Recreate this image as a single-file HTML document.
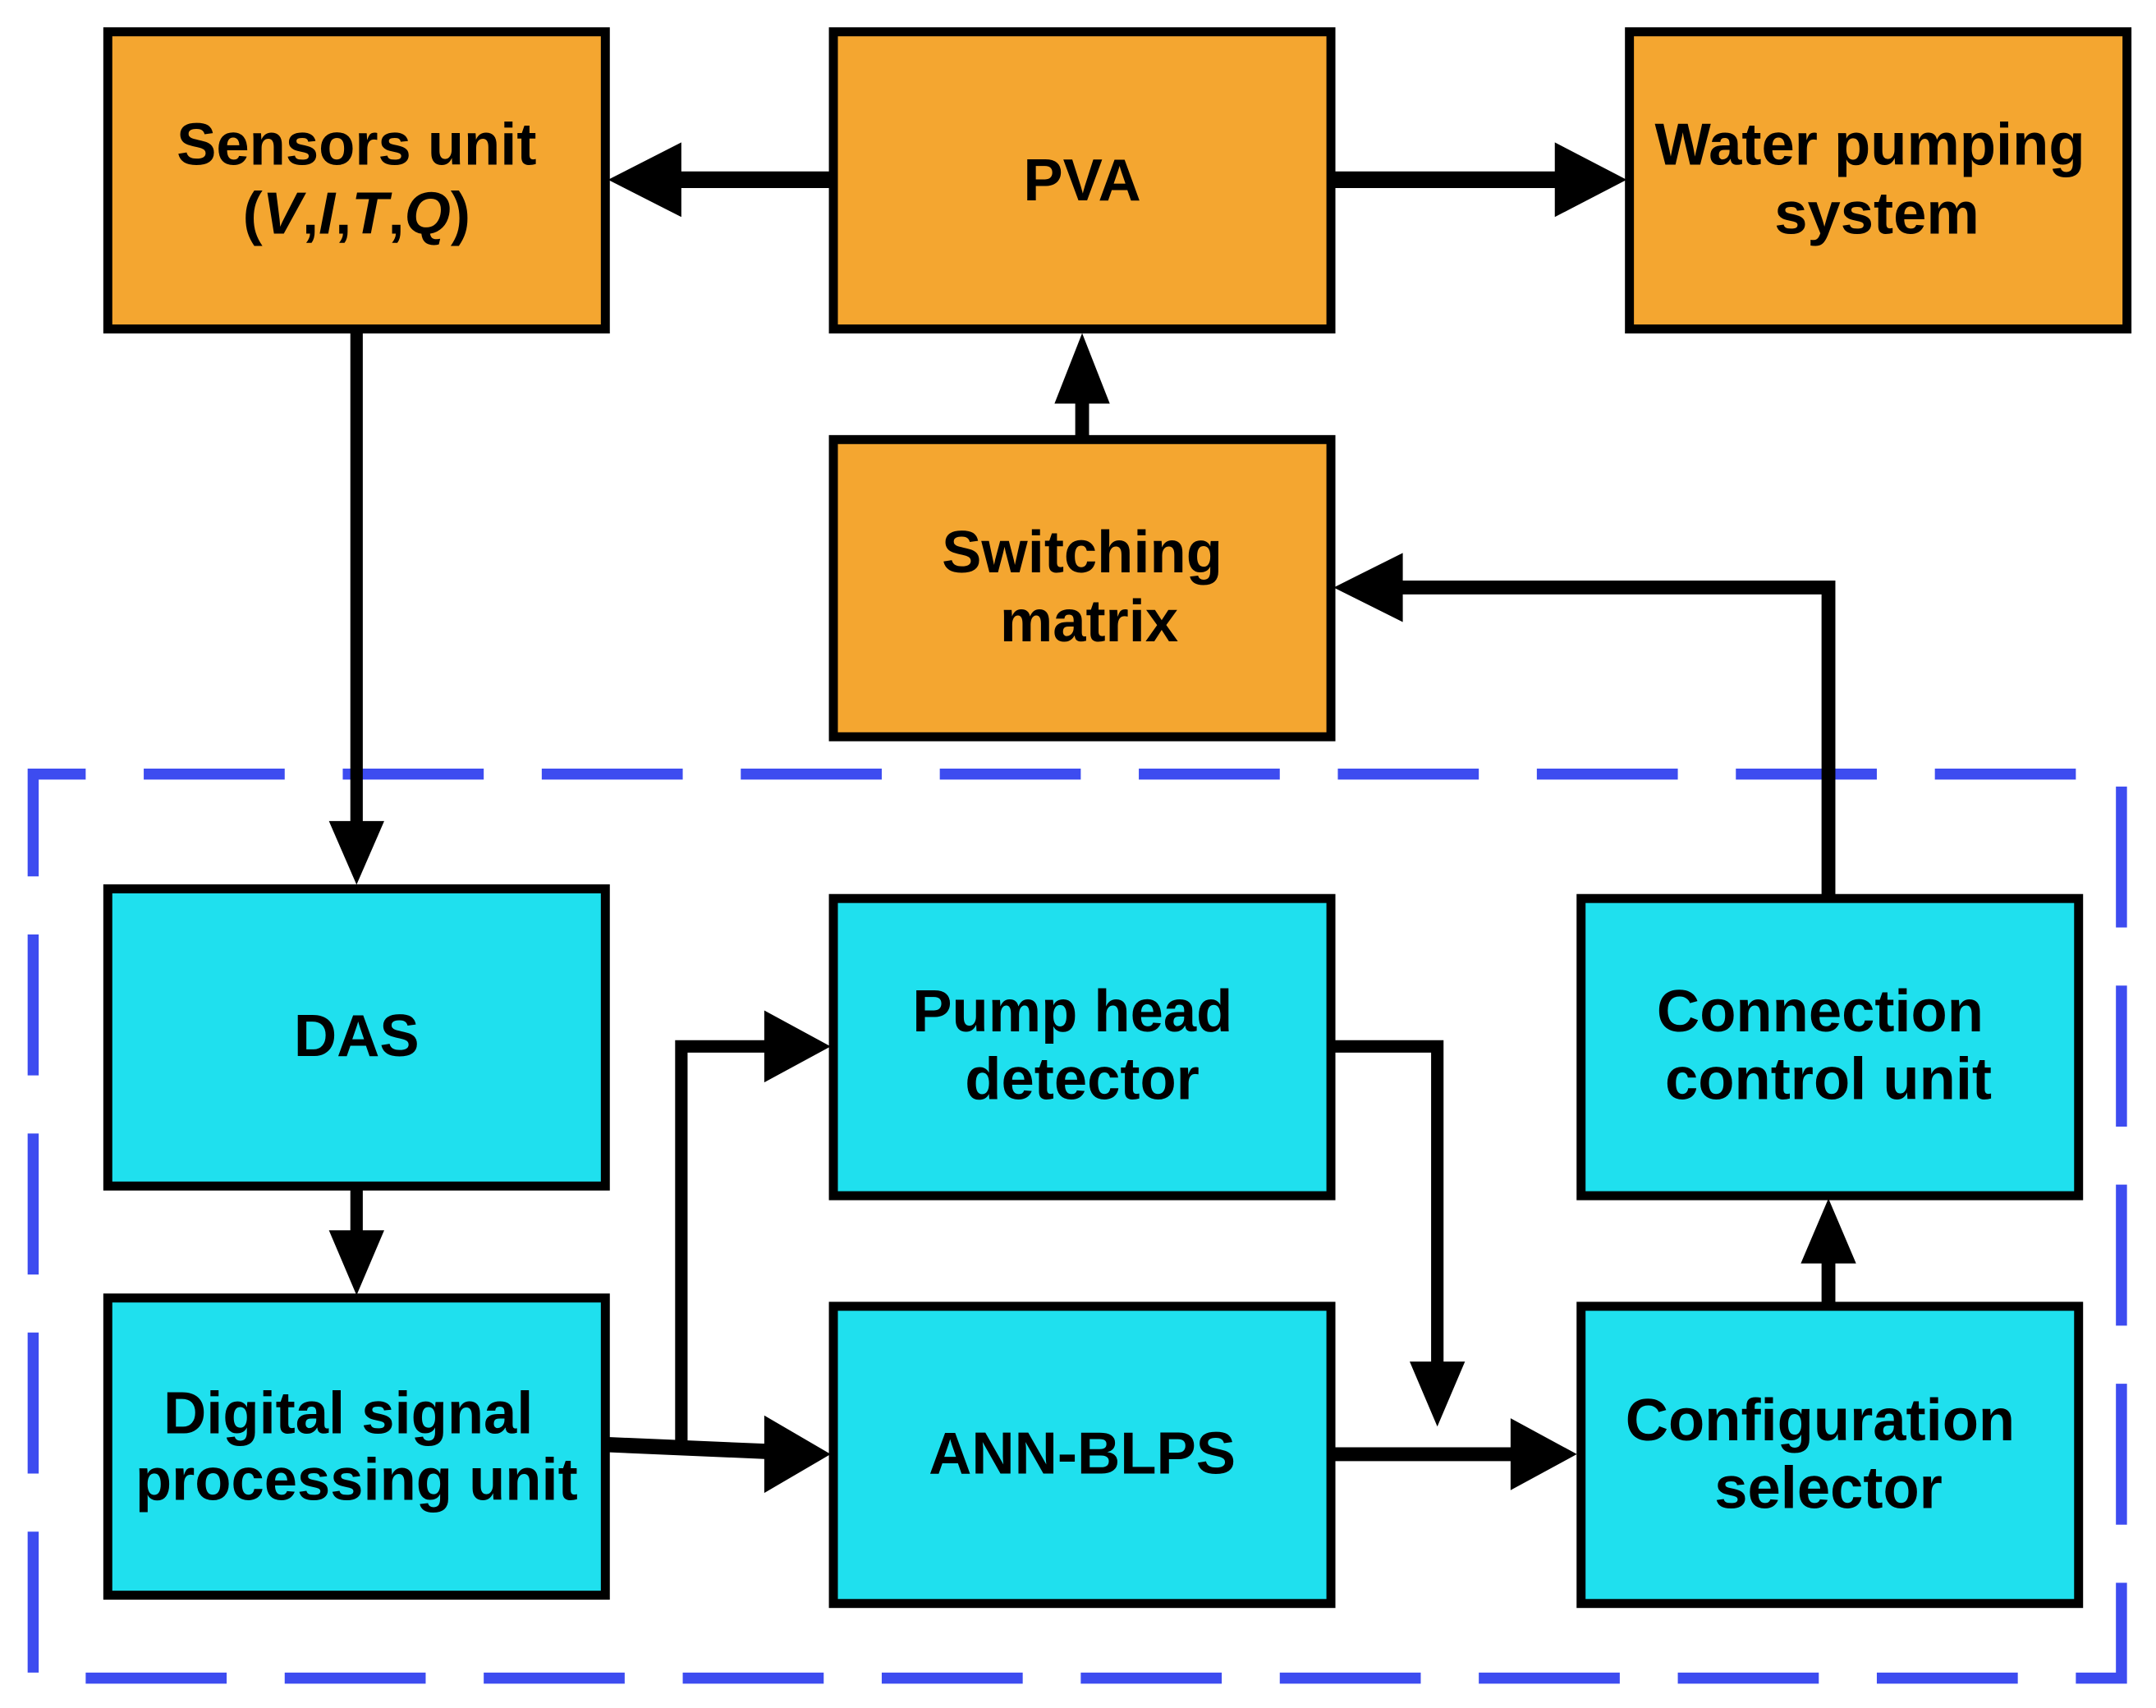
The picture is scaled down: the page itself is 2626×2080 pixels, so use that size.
<!DOCTYPE html>
<html><head><meta charset="utf-8"><style>
html,body{margin:0;padding:0;background:#fff;}
svg{display:block;}
text{font-family:"Liberation Sans",Arial,sans-serif;font-weight:bold;font-size:43px;fill:#000;text-anchor:middle;}
</style></head><body>
<svg width="2626" height="2080" viewBox="0 0 1560 1235.6" preserveAspectRatio="none" xmlns="http://www.w3.org/2000/svg">
<rect x="0" y="0" width="1560" height="1236" fill="#fff"/>
<rect x="24" y="560" width="1511" height="654" fill="none" stroke="#3d4cf0" stroke-width="8" stroke-dasharray="102 42" stroke-dashoffset="-80"/>
<g stroke="#000" stroke-width="9" fill="none">
<line x1="258" y1="238" x2="258" y2="600"/>
<line x1="602" y1="130" x2="490" y2="130" stroke-width="12"/>
<line x1="963" y1="130" x2="1128" y2="130" stroke-width="12"/>
<line x1="783" y1="317" x2="783" y2="288" stroke-width="10"/>
<polyline points="1323,649 1323,425 1012,425" stroke-width="10"/>
<line x1="258" y1="858" x2="258" y2="892"/>
<polyline points="438,1045 555,1050" stroke-width="11"/>
<polyline points="493,1047 493,757 555,757"/>
<polyline points="963,757 1040,757 1040,988"/>
<line x1="963" y1="1052" x2="1095" y2="1052" stroke-width="10"/>
<line x1="1323" y1="944" x2="1323" y2="912" stroke-width="10"/>
</g>
<g fill="#000">
<polygon points="238,594 278,594 258,640"/>
<polygon points="493,103 493,157 440,130"/>
<polygon points="1125,103 1125,157 1177,130"/>
<polygon points="763,292 803,292 783,241"/>
<polygon points="1015,400 1015,450 965,425"/>
<polygon points="238,890 278,890 258,937"/>
<polygon points="553,1024 553,1080 601,1052"/>
<polygon points="553,731 553,783 601,757"/>
<polygon points="1020,985 1060,985 1040,1032"/>
<polygon points="1093,1026 1093,1078 1141,1052"/>
<polygon points="1303,914 1343,914 1323,867"/>
</g>
<g stroke="#000" stroke-width="6.5">
<rect x="78" y="23" width="360" height="215" fill="#f4a630"/>
<rect x="603" y="23" width="360" height="215" fill="#f4a630"/>
<rect x="1179" y="23" width="360" height="215" fill="#f4a630"/>
<rect x="603" y="318" width="360" height="215" fill="#f4a630"/>
<rect x="78" y="643" width="360" height="215" fill="#1fe0ee"/>
<rect x="78" y="939" width="360" height="215" fill="#1fe0ee"/>
<rect x="603" y="650" width="360" height="215" fill="#1fe0ee"/>
<rect x="603" y="945" width="360" height="215" fill="#1fe0ee"/>
<rect x="1144" y="650" width="360" height="215" fill="#1fe0ee"/>
<rect x="1144" y="945" width="360" height="215" fill="#1fe0ee"/>
</g>
<text x="258" y="119">Sensors unit</text>
<text x="258" y="169">(<tspan font-style="italic">V</tspan>,<tspan font-style="italic">I</tspan>,<tspan font-style="italic">T</tspan>,<tspan font-style="italic">Q</tspan>)</text>
<text x="783" y="145">PVA</text>
<text x="1353" y="119">Water pumping</text>
<text x="1358" y="169">system</text>
<text x="783" y="414">Switching</text>
<text x="788" y="464">matrix</text>
<text x="258" y="764">DAS</text>
<text x="776" y="746">Pump head</text>
<text x="783" y="795">detector</text>
<text x="1317" y="746">Connection</text>
<text x="1323" y="795">control unit</text>
<text x="252" y="1037">Digital signal</text>
<text x="258" y="1085">processing unit</text>
<text x="783" y="1066">ANN-BLPS</text>
<text x="1317" y="1042">Configuration</text>
<text x="1323" y="1091">selector</text>
</svg>
</body></html>
